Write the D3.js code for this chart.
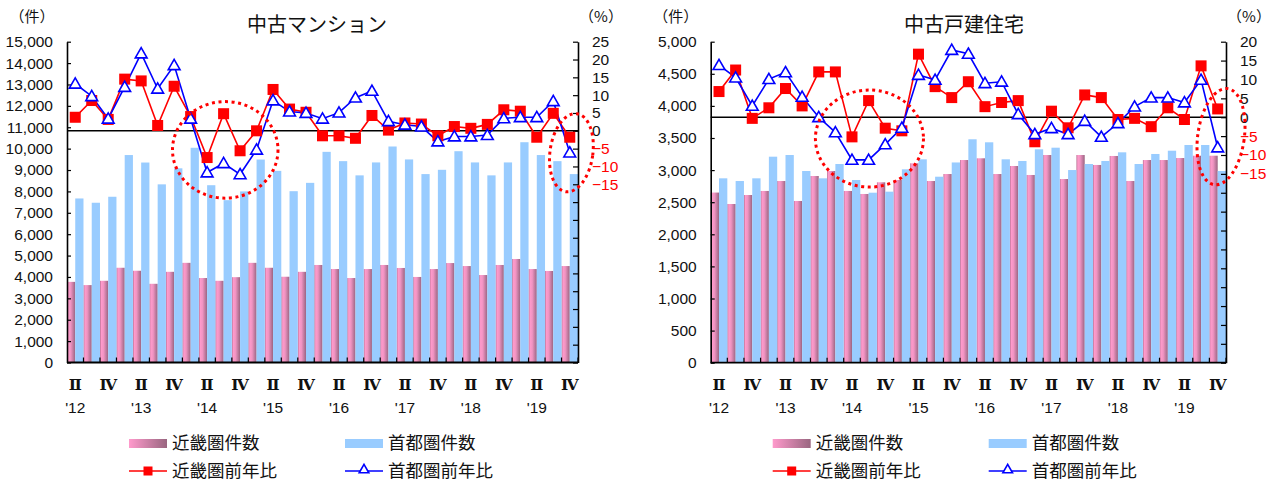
<!DOCTYPE html>
<html>
<head>
<meta charset="utf-8">
<script src="https://cdn.jsdelivr.net/npm/d3@7"></script>
<style>
  html, body { margin: 0; padding: 0; background: #fff; }
  svg { display: block; }
</style>
</head>
<body>
<svg id="chart" width="1274" height="482"></svg>
<script>
// Quarters 2012 Q2 – 2019 Q4
const periods = [
  "2012Q2","2012Q3","2012Q4","2013Q1","2013Q2","2013Q3","2013Q4","2014Q1",
  "2014Q2","2014Q3","2014Q4","2015Q1","2015Q2","2015Q3","2015Q4","2016Q1",
  "2016Q2","2016Q3","2016Q4","2017Q1","2017Q2","2017Q3","2017Q4","2018Q1",
  "2018Q2","2018Q3","2018Q4","2019Q1","2019Q2","2019Q3","2019Q4"
];
const quarterTicks = [
  "Ⅱ","","Ⅳ","","Ⅱ","","Ⅳ","","Ⅱ","","Ⅳ","","Ⅱ","","Ⅳ","",
  "Ⅱ","","Ⅳ","","Ⅱ","","Ⅳ","","Ⅱ","","Ⅳ","","Ⅱ","","Ⅳ"
];
const yearTicks = [
  "'12","","","","'13","","","","'14","","","","'15","","","",
  "'16","","","","'17","","","","'18","","","","'19","",""
];

// 中古マンション
const kinkiCountM = [3770,3620,3820,4430,4290,3680,4240,4660,3950,3820,3990,4660,4430,4010,4240,4560,
                     4370,3950,4370,4560,4420,4000,4370,4650,4510,4090,4560,4840,4370,4280,4510];
const shutoCountM = [7670,7470,7750,9700,9350,8330,9080,10040,8290,7590,8000,9490,8960,8010,8400,9850,
                     9415,8750,9355,10100,9495,8810,9010,9880,9355,8750,9355,10300,9700,9415,8810];
const kinkiYoYM = [3.8,8.5,3.2,14.5,14.0,1.5,12.5,4.0,-7.5,4.8,-5.6,0.0,11.6,6.1,5.2,-1.4,
                   -1.4,-2.1,4.3,0.2,2.2,1.9,-1.4,1.2,0.7,1.8,5.9,5.5,-1.8,4.9,-1.8];
const shutoYoYM = [13.2,9.7,3.4,12.3,21.7,11.8,18.4,3.4,-11.7,-9.1,-12.2,-5.3,8.5,5.4,5.0,3.4,
                   5.1,9.3,11.2,2.7,1.7,1.2,-3.0,-1.6,-1.6,-1.2,3.5,3.8,3.8,8.3,-6.1];

// 中古戸建住宅
const kinkiCountH = [2650,2472,2612,2675,2830,2519,2908,2986,2675,2628,2810,2846,3106,2830,2939,3157,
                     3184,2939,3064,2924,3235,2861,3235,3080,3220,2830,3157,3157,3188,3224,3224];
const shutoCountH = [2872,2830,2872,3209,3235,2986,2872,3095,2846,2648,2664,3012,3168,2897,3119,3480,
                     3433,3168,3142,3324,3349,3001,3095,3142,3277,3095,3251,3302,3391,3391,2986];
const kinkiYoYH = [6.8,12.5,-0.3,2.5,7.6,3.0,12.0,12.0,-5.2,4.4,-2.9,-3.6,16.7,8.1,5.2,9.4,
                   2.8,3.9,4.4,-6.5,1.6,-2.8,5.9,5.2,-0.6,-0.3,-2.5,2.5,-0.6,13.6,2.2];
const shutoYoYH = [13.8,10.5,3.0,10.1,11.9,5.4,0.0,-4.0,-11.3,-11.3,-7.2,-2.8,11.2,9.9,17.8,16.8,
                   9.0,9.4,0.8,-4.5,-2.9,-4.5,-1.0,-5.2,-1.6,2.8,5.2,5.2,3.9,9.9,-8.0];

const seriesNames = ["近畿圏件数", "首都圏件数", "近畿圏前年比", "首都圏前年比"];

const NUM_FONT = "'Liberation Sans', Arial, sans-serif";
const JP_FONT = "'Noto Sans CJK JP', 'Noto Sans', sans-serif";
const ROMAN_FONT = "'DejaVu Serif', 'Liberation Serif', serif";

const svg = d3.select("#chart");
const defs = svg.append("defs");

const barGrad = defs.append("linearGradient").attr("id", "pinkBar")
  .attr("x1", 0).attr("x2", 1).attr("y1", 0).attr("y2", 0);
[[0, "#B87395"], [0.18, "#FF9ACB"], [0.45, "#F094C2"], [1, "#9A6582"]]
  .forEach(([o, c]) => barGrad.append("stop").attr("offset", o).attr("stop-color", c));

const keyGrad = defs.append("linearGradient").attr("id", "pinkKey")
  .attr("x1", 0).attr("x2", 1).attr("y1", 0).attr("y2", 0);
[[0, "#FF9ACC"], [1, "#996680"]]
  .forEach(([o, c]) => keyGrad.append("stop").attr("offset", o).attr("stop-color", c));

function drawPanel(p) {
  const g = svg.append("g");
  const x = d3.scaleBand().domain(periods).range([p.left, p.right]).padding(0);
  const bw = x.bandwidth();
  const yC = d3.scaleLinear().domain([0, p.countMax]).range([p.bottom, p.top]);
  const yP = d3.scaleLinear().domain([p.pctMin, p.pctMax]).range([p.bottom, p.top]);
  const cx = i => x(periods[i]) + bw / 2;

  // bars
  g.append("g").selectAll("rect").data(p.kinkiCount).join("rect")
    .attr("x", (d, i) => x(periods[i]))
    .attr("y", d => yC(d))
    .attr("width", bw / 2)
    .attr("height", d => yC(0) - yC(d))
    .attr("fill", "url(#pinkBar)");
  g.append("g").selectAll("rect").data(p.shutoCount).join("rect")
    .attr("x", (d, i) => x(periods[i]) + bw / 2)
    .attr("y", d => yC(d))
    .attr("width", bw / 2)
    .attr("height", d => yC(0) - yC(d))
    .attr("fill", "#99CCFF");

  // left (count) axis
  const axL = g.append("g").attr("transform", `translate(${p.left},0)`)
    .call(d3.axisLeft(yC)
      .tickValues(d3.range(0, p.countMax + 1, p.countStep))
      .tickFormat(d3.format(","))
      .tickSize(-4).tickSizeOuter(0).tickPadding(14));
  axL.select(".domain").attr("stroke", "#000").attr("stroke-width", 1.6);
  axL.selectAll(".tick line").attr("stroke", "#000").attr("stroke-width", 1.2);
  axL.selectAll("text").attr("font-family", NUM_FONT).attr("font-size", 15.5).attr("fill", "#111");

  // right (percent) axis
  const axR = g.append("g").attr("transform", `translate(${p.right},0)`)
    .call(d3.axisRight(yP)
      .tickValues(d3.range(p.pctMin, p.pctMax + 1, 5))
      .tickFormat(d => d >= -15 ? d3.format("d")(d) : "")
      .tickSize(-5).tickSizeOuter(0).tickPadding(14));
  axR.select(".domain").attr("stroke", "#000").attr("stroke-width", 1.6);
  axR.selectAll(".tick line").attr("stroke", "#000").attr("stroke-width", 1.2);
  axR.selectAll("text").attr("font-family", NUM_FONT).attr("font-size", 15.5)
    .attr("fill", d => d < 0 ? "#FF0000" : "#111");

  // category axis
  const axB = g.append("g");
  axB.append("line")
    .attr("x1", p.left).attr("x2", p.right)
    .attr("y1", yC(0)).attr("y2", yC(0))
    .attr("stroke", "#000").attr("stroke-width", 1.8);
  axB.selectAll("line.tick").data(periods.slice(1).concat([null])).join("line")
    .attr("class", "tick")
    .attr("x1", d => d ? x(d) : p.right).attr("x2", d => d ? x(d) : p.right)
    .attr("y1", yC(0)).attr("y2", yC(0) - 5)
    .attr("stroke", "#000").attr("stroke-width", 1.2);
  axB.selectAll("text.q").data(quarterTicks).join("text")
    .attr("class", "q")
    .attr("x", (d, i) => cx(i)).attr("y", yC(0) + 27)
    .attr("text-anchor", "middle")
    .attr("font-family", ROMAN_FONT).attr("font-size", 15.5).attr("font-weight", "bold")
    .attr("fill", "#111")
    .text(d => d);
  axB.selectAll("text.yr").data(yearTicks).join("text")
    .attr("class", "yr")
    .attr("x", (d, i) => cx(i)).attr("y", yC(0) + 50)
    .attr("text-anchor", "middle")
    .attr("font-family", NUM_FONT).attr("font-size", 15.5)
    .attr("fill", "#111")
    .text(d => d);

  // zero line for the percentage axis
  g.append("line")
    .attr("x1", p.left).attr("x2", p.right)
    .attr("y1", yP(0)).attr("y2", yP(0))
    .attr("stroke", "#000").attr("stroke-width", 1.5);

  // year-on-year lines
  const line = d3.line().x((d, i) => cx(i)).y(d => yP(d));
  g.append("path").datum(p.kinkiYoY).attr("d", line)
    .attr("fill", "none").attr("stroke", "#FF0000").attr("stroke-width", 1.6);
  g.append("path").datum(p.shutoYoY).attr("d", line)
    .attr("fill", "none").attr("stroke", "#0000FF").attr("stroke-width", 1.6);

  const sq = 11;
  g.append("g").selectAll("rect").data(p.kinkiYoY).join("rect")
    .attr("x", (d, i) => cx(i) - sq / 2).attr("y", d => yP(d) - sq / 2)
    .attr("width", sq).attr("height", sq)
    .attr("fill", "#FF0000");
  const tri = d3.symbol().type(d3.symbolTriangle).size(60);
  g.append("g").selectAll("path").data(p.shutoYoY).join("path")
    .attr("d", tri)
    .attr("transform", (d, i) => `translate(${cx(i)},${yP(d) + 1})`)
    .attr("fill", "#fff").attr("stroke", "#0000FF").attr("stroke-width", 1.6);

  // highlighted ranges
  p.highlights.forEach(h => {
    const ex = p.left + (h.from + h.to) / 2 * bw;
    const ey = (yP(h.hi) + yP(h.lo)) / 2;
    g.append("ellipse")
      .attr("cx", 0).attr("cy", 0)
      .attr("rx", (h.to - h.from) / 2 * bw)
      .attr("ry", (yP(h.lo) - yP(h.hi)) / 2)
      .attr("transform", `translate(${ex},${ey}) rotate(${h.tilt})`)
      .attr("fill", "none").attr("stroke", "#FF0000")
      .attr("stroke-width", 3).attr("stroke-dasharray", "3 3.6");
  });

  // title and units
  g.append("text").attr("x", p.titleX).attr("y", 32)
    .attr("text-anchor", "middle")
    .attr("font-family", JP_FONT).attr("font-size", 20).attr("fill", "#111")
    .text(p.title);
  g.append("text").attr("x", p.left - 35).attr("y", 22)
    .attr("text-anchor", "middle")
    .attr("font-family", JP_FONT).attr("font-size", 15).attr("fill", "#111")
    .text("（件）");
  g.append("text").attr("x", p.right + 23).attr("y", 22)
    .attr("text-anchor", "middle")
    .attr("font-family", JP_FONT).attr("font-size", 15).attr("fill", "#111")
    .text("（%）");

  // legend
  const lg = g.append("g").attr("transform", `translate(${p.left + 62},0)`);
  const col2 = 216;
  lg.append("rect").attr("x", 0).attr("y", 439).attr("width", 38).attr("height", 9).attr("fill", "url(#pinkKey)");
  lg.append("rect").attr("x", col2).attr("y", 439).attr("width", 38).attr("height", 9).attr("fill", "#99CCFF");
  lg.append("line").attr("x1", 0).attr("x2", 38).attr("y1", 471).attr("y2", 471)
    .attr("stroke", "#FF0000").attr("stroke-width", 1.6);
  lg.append("rect").attr("x", 19 - 4.5).attr("y", 471 - 4.5).attr("width", 9).attr("height", 9).attr("fill", "#FF0000");
  lg.append("line").attr("x1", col2).attr("x2", col2 + 38).attr("y1", 471).attr("y2", 471)
    .attr("stroke", "#0000FF").attr("stroke-width", 1.6);
  lg.append("path").attr("d", d3.symbol().type(d3.symbolTriangle).size(40))
    .attr("transform", `translate(${col2 + 19},470)`)
    .attr("fill", "#fff").attr("stroke", "#0000FF").attr("stroke-width", 1.6);
  const lt = [[0, 449, seriesNames[0]], [col2, 449, seriesNames[1]], [0, 477, seriesNames[2]], [col2, 477, seriesNames[3]]];
  lg.selectAll("text").data(lt).join("text")
    .attr("x", d => d[0] + 43).attr("y", d => d[1])
    .attr("font-family", JP_FONT).attr("font-size", 17.5).attr("fill", "#111")
    .text(d => d[2]);
}

drawPanel({
  title: "中古マンション", titleX: 317,
  left: 67, right: 578, top: 41.7, bottom: 362.5,
  countMax: 15000, countStep: 1000, pctMin: -65, pctMax: 25,
  kinkiCount: kinkiCountM, shutoCount: shutoCountM,
  kinkiYoY: kinkiYoYM, shutoYoY: shutoYoYM,
  highlights: [
    { from: 6.4, to: 12.8, hi: 8.2, lo: -18.9, tilt: 0 },
    { from: 29.3, to: 31.9, hi: 4.9, lo: -17.2, tilt: 8 }
  ]
});

drawPanel({
  title: "中古戸建住宅", titleX: 964,
  left: 710.7, right: 1226, top: 41.7, bottom: 362.7,
  countMax: 5000, countStep: 500, pctMin: -65, pctMax: 20,
  kinkiCount: kinkiCountH, shutoCount: shutoCountH,
  kinkiYoY: kinkiYoYH, shutoYoY: shutoYoYH,
  highlights: [
    { from: 6.3, to: 12.8, hi: 7.2, lo: -18.5, tilt: 0 },
    { from: 29.3, to: 32.1, hi: 7.7, lo: -18.0, tilt: 8 }
  ]
});
</script>
</body>
</html>
